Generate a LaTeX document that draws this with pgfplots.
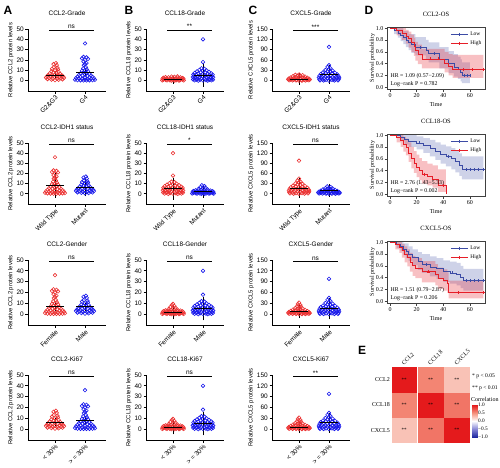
\documentclass[border=0pt]{standalone}
\usepackage{pgfplots}
\pgfplotsset{compat=1.18}
\usepackage{pgfplotstable}
\usepackage{fontspec}
\setmainfont{Liberation Sans}
\newfontfamily\tnr{Liberation Serif}
\definecolor{pr}{RGB}{235,50,50}
\definecolor{pb}{RGB}{25,25,235}
\definecolor{kmb}{RGB}{60,75,165}
\definecolor{kmr}{RGB}{230,30,40}

% CCL2 high-spread group
\pgfplotstableread{
dx y
0 36
-0.05 23
0.05 22.5
-0.1 21.5
0.1 21
0 20
-0.05 18.5
0.05 17
0 16
-0.04 15
0.03 13
-0.06 12
0.06 11
0 10
-0.1 9.5
0.1 9
-0.05 8
0.05 7.5
-0.15 7
0.15 6.5
0 6
-0.2 5.5
0.2 5
-0.08 5
0.08 4.5
-0.25 4
0.25 3.8
-0.15 3.5
0.15 3.2
0 3
-0.3 2.5
0.3 2.3
-0.2 2
0.2 1.8
-0.1 1.5
0.1 1.3
0 1
-0.33 1
0.33 0.8
-0.25 0.5
0.25 0.5
-0.15 0.3
0.15 0.3
-0.05 0.2
0.05 0.2
}\tAH
% CCL2 low-spread group
\pgfplotstableread{
dx y
0.03 17
-0.05 16
0.06 15
-0.04 13
0.08 12.5
-0.1 11.5
0.1 11
0 10
-0.12 9
0.12 8.5
-0.05 8
0.05 7.5
-0.18 7
0.18 6.5
0 6
-0.22 5.5
0.22 5.2
-0.1 5
0.1 4.8
-0.27 4.2
0.27 4
-0.15 3.8
0.15 3.5
0 3.2
-0.3 3
0.3 2.8
-0.2 2.5
0.2 2.2
-0.08 2
0.08 1.8
-0.25 1.5
0.25 1.3
-0.12 1
0.12 0.8
0 0.5
}\tAL
% CCL18 high group
\pgfplotstableread{
dx y
0 40
0 18
-0.05 12
0.05 11.5
-0.12 10.5
0.12 10
0 9.5
-0.2 9
0.2 8.5
-0.08 8
0.08 8
-0.28 7.5
0.28 7
-0.16 7
0.16 6.5
0 6.5
-0.32 6
0.32 5.8
-0.22 5.5
0.22 5.2
-0.1 5
0.1 5
-0.3 4.5
0.3 4.3
-0.18 4
0.18 4
0 4
-0.34 3.5
0.34 3.3
-0.25 3
0.25 3
-0.12 3
0.12 2.8
-0.3 2.2
0.3 2
-0.2 2
0.2 1.8
-0.06 1.8
0.06 1.5
-0.33 1.2
0.33 1
-0.22 1
0.22 0.8
-0.1 0.8
0.1 0.5
-0.28 0.3
0.28 0.3
0 0.2
-0.16 0
0.16 0
}\tBH
% CCL18 low group
\pgfplotstableread{
dx y
0 9.5
-0.04 8.5
0.05 7.5
-0.08 6.8
0.08 6
0 5.2
-0.15 4.8
0.15 4.3
-0.05 4
0.05 3.8
-0.25 3.5
0.25 3.3
-0.15 3.2
0.15 3
0 3
-0.32 2.8
0.32 2.6
-0.22 2.5
0.22 2.3
-0.1 2.2
0.1 2
-0.35 1.8
0.35 1.7
-0.28 1.6
0.28 1.5
-0.18 1.4
0.18 1.3
-0.06 1.2
0.06 1.1
-0.32 0.9
0.32 0.8
-0.24 0.7
0.24 0.6
-0.12 0.5
0.12 0.5
0 0.4
-0.36 0.3
0.36 0.2
-0.2 0.2
0.2 0.1
-0.06 0
0.06 0
}\tBL
% CXCL5 high group
\pgfplotstableread{
dx y
0 98
0 45
-0.05 40
0.05 36
0 33
-0.12 31
0.12 29
-0.05 27
0.05 26
-0.2 24
0.2 23
-0.1 22
0.1 21
0 20
-0.28 19
0.28 18
-0.18 17
0.18 16
-0.06 15
0.06 15
-0.32 14
0.32 13
-0.24 12
0.24 12
-0.12 11
0.12 10
0 10
-0.34 9
0.34 8
-0.26 8
0.26 7
-0.16 7
0.16 6
-0.05 6
0.05 5
-0.32 4
0.32 4
-0.22 3
0.22 3
-0.1 2
0.1 2
-0.3 1
0.3 1
-0.18 0.5
0.18 0.5
0 0
}\tCH
% CXCL5 low group
\pgfplotstableread{
dx y
0 32
-0.04 28
0.05 25
-0.06 22
0.06 20
0 18
-0.12 17
0.12 16
-0.04 15
0.04 14
-0.2 13
0.2 12
-0.1 11
0.1 10
0 10
-0.28 9
0.28 8.5
-0.18 8
0.18 7.5
-0.06 7
0.06 6.5
-0.34 6
0.34 5.5
-0.25 5
0.25 5
-0.14 4.5
0.14 4
-0.02 4
-0.36 3.5
0.36 3
-0.28 3
0.28 2.5
-0.18 2.5
0.18 2
-0.08 2
0.08 1.5
-0.33 1
0.33 1
-0.22 0.8
0.22 0.5
-0.1 0.5
0.1 0.3
0 0
}\tCL

\tikzset{
 sigt/.style={above, font=\fontsize{6.5}{7}\selectfont, inner sep=1.5pt},
 hrt/.style={anchor=west, font=\tnr\fontsize{5.8}{6}\selectfont, inner sep=0.5pt},
}
\pgfplotsset{
 colormap={corr}{rgb255(0cm)=(30,40,160); rgb255(1cm)=(135,135,215); rgb255(2cm)=(255,255,255); rgb255(3cm)=(245,145,125); rgb255(4cm)=(228,26,28)},
 every axis/.append style={/pgf/number format/assume math mode=true},
 scat/.style={scale only axis, width=78pt, axis lines*=left, xmin=0.1, xmax=2.7, xtick={1,2},
   tick align=outside, major tick length=2.5pt, clip=false,
   axis line style={line width=0.8pt}, tick style={line width=0.8pt, black},
   xticklabel style={rotate=45, anchor=north east, inner sep=1pt, font=\fontsize{6.5}{7}\selectfont},
   yticklabel style={font=\fontsize{6.5}{7}\selectfont, inner sep=1.5pt},
   ylabel style={font=\fontsize{5.9}{6}\selectfont, yshift=-2pt},
   title style={font=\fontsize{6.5}{7}\selectfont, yshift=3.5pt}},
 s50/.style={ymin=-10, ymax=50, ytick={0,10,20,30,40,50}},
 s150/.style={ymin=-30, ymax=150, ytick={0,30,60,90,120,150}},
 rp/.style={only marks, mark=o, mark size=1.8pt, pr, mark options={line width=0.6pt}},
 bp/.style={only marks, mark=o, mark size=1.8pt, pb, mark options={line width=0.6pt}},
 mn/.style={only marks, black, mark=-, mark size=9pt, mark options={line width=0.8pt},
   error bars/.cd, y dir=both, y explicit, error mark options={black, mark size=4pt, line width=0.8pt},
   error bar style={black, line width=0.8pt}},
 sig/.style={black, line width=0.8pt, mark=none},
 km/.style={scale only axis, width=98pt, height=62pt, xmin=-2.25, xmax=71.3, ymin=-0.03, ymax=1.02,
   xtick={0,20,40,60}, ytick={0,0.2,0.4,0.6,0.8,1},
   yticklabels={0.0,0.2,0.4,0.6,0.8,1.0},
   tick pos=left, tick align=outside, major tick length=2.5pt,
   axis line style={line width=0.6pt, black!75}, tick style={black!75, line width=0.5pt},
   ticklabel style={font=\tnr\fontsize{6}{7}\selectfont, inner sep=1pt},
   xticklabel style={inner sep=2pt},
   xlabel=Time, ylabel=Survival probability,
   label style={font=\tnr\fontsize{6}{7}\selectfont},
   xlabel style={yshift=1pt}, ylabel style={yshift=-4pt},
   title style={font=\tnr\fontsize{6.5}{7}\selectfont, yshift=1pt},
   legend style={draw=none, fill=none, at={(0.99,0.97)}, anchor=north east,
     font=\tnr\fontsize{5.5}{6}\selectfont, inner sep=0.5pt},
   legend cell align=left,
   legend image post style={mark=+, mark size=1.6pt}},
 bandb/.style={const plot, draw=none, fill=kmb, fill opacity=0.25, forget plot},
 bandr/.style={const plot, draw=none, fill=kmr, fill opacity=0.28, forget plot},
 cb/.style={kmb, const plot, line width=0.7pt, mark=none},
 cr/.style={kmr, const plot, line width=0.7pt, mark=none},
 censb/.style={only marks, mark=+, mark size=1.5pt, kmb, forget plot},
 censr/.style={only marks, mark=+, mark size=1.5pt, kmr, forget plot},
}

\begin{document}
\begin{tikzpicture}
\path[use as bounding box] (0pt,0pt) rectangle (500pt,-467pt);

% ============ Column A: CCL2 ============
\begin{axis}[scat, s50, at={(28pt,-91pt)}, anchor=south west, height=62pt, title={CCL2-Grade},
  ylabel={Relative CCL2 protein levels}, xticklabels={G2\&G3,G4}]
\addplot[rp] table[x expr=1+\thisrow{dx}, y=y]{\tAL};
\addplot[bp] table[x expr=2+\thisrow{dx}, y=y]{\tAH};
\addplot[mn] coordinates {(1,5.5) +- (0,0) (2,8) +- (0,0)};
\addplot[sig] coordinates {(0.8,48.5)(2.3,48.5)};
\node[sigt] at (axis cs:1.55,48.5) {ns};
\end{axis}
\begin{axis}[scat, s50, at={(28pt,-204pt)}, anchor=south west, height=61pt, title={CCL2-IDH1 status},
  ylabel={Relative CCL2 protein levels}, xticklabels={Wild Type,Mutant}]
\addplot[rp] table[x expr=1+\thisrow{dx}, y=y]{\tAH};
\addplot[bp] table[x expr=2+\thisrow{dx}, y=y]{\tAL};
\addplot[mn] coordinates {(1,8.5) +- (0,8.5) (2,6) +- (0,4.5)};
\addplot[sig] coordinates {(0.8,48.5)(2.3,48.5)};
\node[sigt] at (axis cs:1.55,48.5) {ns};
\end{axis}
\begin{axis}[scat, s50, at={(28pt,-325pt)}, anchor=south west, height=65pt, title={CCL2-Gender},
  ylabel={Relative CCL2 protein levels}, xticklabels={Female,Male}]
\addplot[rp] table[x expr=1+\thisrow{dx}, y=y]{\tAH};
\addplot[bp] table[x expr=2+\thisrow{dx}, y=y]{\tAL};
\addplot[mn] coordinates {(1,7) +- (0,0) (2,7) +- (0,0)};
\addplot[sig] coordinates {(0.8,48.5)(2.3,48.5)};
\node[sigt] at (axis cs:1.55,48.5) {ns};
\end{axis}
\begin{axis}[scat, s50, at={(28pt,-440pt)}, anchor=south west, height=65pt, title={CCL2-Ki67},
  ylabel={Relative CCL2 protein levels}, xticklabels={< 30\%,> = 30\%}]
\addplot[rp] table[x expr=1+\thisrow{dx}, y=y]{\tAL};
\addplot[bp] table[x expr=2+\thisrow{dx}, y=y]{\tAH};
\addplot[mn] coordinates {(1,6.5) +- (0,0) (2,8.5) +- (0,0)};
\addplot[sig] coordinates {(0.8,48.5)(2.3,48.5)};
\node[sigt] at (axis cs:1.55,48.5) {ns};
\end{axis}

% ============ Column B: CCL18 ============
\begin{axis}[scat, s50, at={(146pt,-91pt)}, anchor=south west, height=62pt, title={CCL18-Grade},
  ylabel={Relative CCL18 protein levels}, xticklabels={G2\&G3,G4}]
\addplot[rp, restrict y to domain=-5:4.5] table[x expr=1+\thisrow{dx}, y=y]{\tBL};
\addplot[bp] table[x expr=2+\thisrow{dx}, y=y]{\tBH};
\addplot[mn] coordinates {(1,1) +- (0,0) (2,5) +- (0,7)};
\addplot[sig] coordinates {(0.8,48.5)(2.3,48.5)};
\node[sigt] at (axis cs:1.55,48.5) {**};
\end{axis}
\begin{axis}[scat, s50, at={(146pt,-204pt)}, anchor=south west, height=61pt, title={CCL18-IDH1 status},
  ylabel={Relative CCL18 protein levels}, xticklabels={Wild Type,Mutant}]
\addplot[rp] table[x expr=1+\thisrow{dx}, y=y]{\tBH};
\addplot[bp, restrict y to domain=-5:8.5] table[x expr=2+\thisrow{dx}, y=y]{\tBL};
\addplot[mn] coordinates {(1,5) +- (0,7) (2,2) +- (0,2)};
\addplot[sig] coordinates {(0.8,48.5)(2.3,48.5)};
\node[sigt] at (axis cs:1.55,48.5) {*};
\end{axis}
\begin{axis}[scat, s50, at={(146pt,-325pt)}, anchor=south west, height=65pt, title={CCL18-Gender},
  ylabel={Relative CCL18 protein levels}, xticklabels={Female,Male}]
\addplot[rp] table[x expr=1+\thisrow{dx}, y=y]{\tBL};
\addplot[bp] table[x expr=2+\thisrow{dx}, y=y]{\tBH};
\addplot[mn] coordinates {(1,2) +- (0,3) (2,5) +- (0,7)};
\addplot[sig] coordinates {(0.8,48.5)(2.3,48.5)};
\node[sigt] at (axis cs:1.55,48.5) {ns};
\end{axis}
\begin{axis}[scat, s50, at={(146pt,-440pt)}, anchor=south west, height=65pt, title={CCL18-Ki67},
  ylabel={Relative CCL18 protein levels}, xticklabels={< 30\%,> = 30\%}]
\addplot[rp] table[x expr=1+\thisrow{dx}, y=y]{\tBL};
\addplot[bp] table[x expr=2+\thisrow{dx}, y=y]{\tBH};
\addplot[mn] coordinates {(1,2) +- (0,3) (2,5) +- (0,7)};
\addplot[sig] coordinates {(0.8,48.5)(2.3,48.5)};
\node[sigt] at (axis cs:1.55,48.5) {ns};
\end{axis}

% ============ Column C: CXCL5 ============
\begin{axis}[scat, s150, at={(272pt,-91pt)}, anchor=south west, height=62pt, title={CXCL5-Grade},
  ylabel={Relative CXCL5 protein levels}, xticklabels={G2\&G3,G4}]
\addplot[rp, restrict y to domain=-5:19] table[x expr=1+\thisrow{dx}, y=y]{\tCL};
\addplot[bp] table[x expr=2+\thisrow{dx}, y=y]{\tCH};
\addplot[mn] coordinates {(1,5) +- (0,5) (2,18) +- (0,16)};
\addplot[sig] coordinates {(0.8,145)(2.3,145)};
\node[sigt] at (axis cs:1.55,145) {***};
\end{axis}
\begin{axis}[scat, s150, at={(272pt,-204pt)}, anchor=south west, height=61pt, title={CXCL5-IDH1 status},
  ylabel={Relative CXCL5 protein levels}, xticklabels={Wild Type,Mutant}]
\addplot[rp] table[x expr=1+\thisrow{dx}, y=y]{\tCH};
\addplot[bp, restrict y to domain=-5:23] table[x expr=2+\thisrow{dx}, y=y]{\tCL};
\addplot[mn] coordinates {(1,17) +- (0,17) (2,9) +- (0,7)};
\addplot[sig] coordinates {(0.8,145)(2.3,145)};
\node[sigt] at (axis cs:1.55,145) {ns};
\end{axis}
\begin{axis}[scat, s150, at={(272pt,-325pt)}, anchor=south west, height=65pt, title={CXCL5-Gender},
  ylabel={Relative CXCL5 protein levels}, xticklabels={Female,Male}]
\addplot[rp] table[x expr=1+\thisrow{dx}, y=y]{\tCL};
\addplot[bp] table[x expr=2+\thisrow{dx}, y=y]{\tCH};
\addplot[mn] coordinates {(1,8) +- (0,8) (2,15) +- (0,18)};
\addplot[sig] coordinates {(0.8,145)(2.3,145)};
\node[sigt] at (axis cs:1.55,145) {ns};
\end{axis}
\begin{axis}[scat, s150, at={(272pt,-440pt)}, anchor=south west, height=65pt, title={CXCL5-Ki67},
  ylabel={Relative CXCL5 protein levels}, xticklabels={< 30\%,> = 30\%}]
\addplot[rp] table[x expr=1+\thisrow{dx}, y=y]{\tCL};
\addplot[bp] table[x expr=2+\thisrow{dx}, y=y]{\tCH};
\addplot[mn] coordinates {(1,5) +- (0,5) (2,18) +- (0,17)};
\addplot[sig] coordinates {(0.8,145)(2.3,145)};
\node[sigt] at (axis cs:1.55,145) {**};
\end{axis}

% ============ Column D: KM ============
\begin{axis}[km, at={(387pt,-89pt)}, anchor=south west, title={CCL2-OS}]
\addplot[bandb] coordinates {(0,1)(6,1)(10,0.95)(14,0.9)(19,0.85)(27,0.8)(29,0.76)(37,0.68)(44,0.61)(48,0.56)(51,0.52)(53,0.47)(54,0.42)(60,0.42)
 (60,0.07)(54,0.10)(53,0.14)(51,0.18)(48,0.24)(44,0.32)(37,0.42)(29,0.47)(27,0.54)(19,0.58)(16,0.63)(14,0.68)(12,0.73)(10,0.78)(8,0.84)(6,0.9)(3,1)(0,1)};
\addplot[bandr] coordinates {(0,1)(9,1)(12,0.97)(14,0.94)(16,0.89)(18,0.84)(19,0.77)(21,0.72)(24,0.65)(41,0.6)(44,0.56)(47,0.55)(70,0.55)
 (70,0.16)(47,0.2)(44,0.25)(41,0.32)(24,0.39)(21,0.45)(19,0.53)(18,0.6)(16,0.67)(14,0.74)(12,0.8)(9,0.88)(5,1)(0,1)};
\addplot[cb] coordinates {(0,1)(3,0.96)(6,0.92)(8,0.88)(10,0.84)(12,0.80)(14,0.76)(16,0.72)(19,0.68)(27,0.62)(29,0.57)(37,0.48)(44,0.40)(48,0.34)(51,0.30)(53,0.25)(54,0.20)(60,0.20)};
\addlegendentry{Low}
\addplot[cr] coordinates {(0,1)(5,0.96)(9,0.92)(12,0.87)(14,0.82)(16,0.76)(18,0.70)(19,0.62)(21,0.56)(24,0.48)(41,0.41)(44,0.35)(47,0.30)(70,0.30)};
\addlegendentry{High}
\addplot[censb] coordinates {(23,0.68)(33,0.57)(56,0.2)(58,0.2)(60,0.2)};
\addplot[censr] coordinates {(30,0.48)(36,0.48)(55,0.3)(62,0.3)(70,0.3)};
\node[hrt] at (axis cs:0,0.19) {HR = 1.09 (0.57−2.09)};
\node[hrt] at (axis cs:0,0.05) {Log−rank P = 0.782};
\end{axis}

\begin{axis}[km, at={(387pt,-196pt)}, anchor=south west, title={CCL18-OS}]
\addplot[bandb] coordinates {(0,1)(20,0.98)(25,0.95)(30,0.92)(34,0.88)(38,0.84)(42,0.81)(46,0.78)(49,0.74)(52,0.69)(54,0.64)(70,0.64)
 (70,0.25)(54,0.31)(52,0.37)(49,0.42)(46,0.47)(42,0.52)(38,0.58)(34,0.64)(30,0.7)(25,0.76)(20,0.8)(14,0.84)(11,0.9)(8,1)(0,1)};
\addplot[bandr] coordinates {(0,1)(10,0.97)(12,0.94)(14,0.88)(16,0.8)(18,0.73)(20,0.67)(22,0.61)(24,0.56)(28,0.52)(32,0.49)(36,0.42)(42,0.42)
 (42,0.04)(36,0.11)(32,0.15)(28,0.18)(24,0.24)(22,0.29)(20,0.36)(18,0.44)(16,0.55)(14,0.66)(12,0.72)(10,0.8)(8,0.88)(5,1)(0,1)};
\addplot[cb] coordinates {(0,1)(8,0.97)(11,0.93)(14,0.90)(20,0.87)(25,0.82)(30,0.78)(34,0.73)(38,0.68)(42,0.64)(46,0.60)(49,0.55)(52,0.49)(54,0.42)(70,0.42)};
\addlegendentry{Low}
\addplot[cr] coordinates {(0,1)(5,0.96)(8,0.91)(10,0.85)(12,0.80)(14,0.70)(16,0.60)(18,0.52)(20,0.45)(22,0.40)(24,0.34)(28,0.30)(32,0.26)(36,0.15)(42,0.0)};
\addlegendentry{High}
\addplot[censb] coordinates {(22,0.87)(44,0.64)(57,0.42)(60,0.42)(63,0.42)(66,0.42)(70,0.42)};
\addplot[censr] coordinates {(26,0.34)(40,0.15)};
\node[hrt] at (axis cs:0,0.19) {HR = 2.76 (1.43−5.33)};
\node[hrt] at (axis cs:0,0.05) {Log−rank P = 0.002};
\end{axis}

\begin{axis}[km, at={(387pt,-303pt)}, anchor=south west, title={CXCL5-OS}]
\addplot[bandb] coordinates {(0,1)(10,0.98)(14,0.93)(17,0.88)(21,0.83)(24,0.8)(30,0.76)(35,0.73)(40,0.69)(45,0.67)(50,0.65)(53,0.6)(55,0.55)(70,0.55)
 (70,0.18)(55,0.22)(53,0.27)(50,0.3)(45,0.33)(40,0.38)(35,0.42)(30,0.48)(24,0.53)(21,0.61)(17,0.68)(14,0.73)(12,0.78)(10,0.85)(8,0.9)(5,1)(0,1)};
\addplot[bandr] coordinates {(0,1)(9,0.97)(11,0.93)(13,0.88)(15,0.82)(17,0.77)(19,0.73)(24,0.68)(34,0.63)(36,0.57)(40,0.54)(43,0.49)(44,0.35)(70,0.35)
 (70,0.05)(44,0.14)(43,0.18)(40,0.21)(36,0.27)(34,0.32)(24,0.39)(19,0.43)(17,0.5)(15,0.59)(13,0.66)(11,0.74)(9,0.82)(7,0.88)(4,1)(0,1)};
\addplot[cb] coordinates {(0,1)(5,0.97)(8,0.93)(10,0.88)(12,0.84)(14,0.80)(17,0.74)(21,0.67)(24,0.63)(30,0.58)(35,0.55)(40,0.50)(45,0.48)(50,0.45)(53,0.40)(55,0.35)(70,0.35)};
\addlegendentry{Low}
\addplot[cr] coordinates {(0,1)(4,0.96)(7,0.92)(9,0.86)(11,0.80)(13,0.74)(15,0.66)(17,0.60)(19,0.56)(24,0.50)(34,0.45)(36,0.38)(40,0.35)(43,0.30)(44,0.15)(70,0.15)};
\addlegendentry{High}
\addplot[censb] coordinates {(27,0.63)(47,0.48)(57,0.35)(60,0.35)(63,0.35)(66,0.35)(70,0.35)};
\addplot[censr] coordinates {(29,0.5)(51,0.15)(70,0.15)};
\node[hrt] at (axis cs:0,0.19) {HR = 1.51 (0.79−2.87)};
\node[hrt] at (axis cs:0,0.05) {Log−rank P = 0.206};
\end{axis}

% ============ Panel E: correlation heatmap ============
\begin{axis}[at={(391pt,-443pt)}, anchor=south west, scale only axis, width=79pt, height=76pt,
  xmin=-0.5, xmax=2.5, ymin=-0.5, ymax=2.5, xtick={0,1,2}, ytick={0,1,2},
  xticklabels={CCL2,CCL18,CXCL5}, yticklabels={CXCL5,CCL18,CCL2},
  xticklabel pos=right,
  xticklabel style={rotate=45, anchor=south west, font=\tnr\fontsize{6}{7}\selectfont, inner sep=1pt},
  yticklabel style={font=\tnr\fontsize{6}{7}\selectfont, inner sep=1pt},
  axis line style={draw=none}, tick style={draw=none}, clip=false,
  colormap name=corr, point meta min=-1, point meta max=1]
\addplot[scatter, only marks, mark=square*, mark size=12.2pt, scatter src=explicit,
  scatter/use mapped color={draw=mapped color, fill=mapped color}]
  table[x=x, y=y, meta=c] {
x y c
0 2 1
1 2 0.55
2 2 0.28
0 1 0.55
1 1 1
2 1 0.62
0 0 0.28
1 0 0.62
2 0 1
};
\addplot[only marks, mark=none, nodes near coords={**}, nodes near coords align={center},
  every node near coord/.append style={black, font=\tnr\fontsize{5}{6}\selectfont}]
  coordinates {(0,2)(1,2)(2,2)(0,1)(1,1)(2,1)(0,0)(1,0)(2,0)};
\end{axis}
% colour key
\begin{axis}[at={(472pt,-437pt)}, anchor=south west, scale only axis, width=5pt, height=32pt,
  xmin=0, xmax=1, ymin=-1, ymax=1, xtick=\empty, ytick={-1,-0.5,0,0.5,1},
  yticklabels={−1.0,−0.5,0.0,0.5,1.0}, yticklabel pos=right,
  yticklabel style={font=\tnr\fontsize{5.3}{6}\selectfont, inner sep=1pt},
  axis line style={draw=none}, tick style={draw=none},
  colormap name=corr, point meta min=-1, point meta max=1]
\addplot[surf, shader=interp, point meta=y] coordinates {
(0,-1) (1,-1)

(0,-0.5) (1,-0.5)

(0,0) (1,0)

(0,0.5) (1,0.5)

(0,1) (1,1)
};
\end{axis}
\node[anchor=south west, font=\tnr\fontsize{6}{7}\selectfont, inner sep=0pt] at (471pt,-401.5pt) {Correlation};
\node[anchor=west, font=\tnr\fontsize{5.6}{6}\selectfont, inner sep=0pt] at (472pt,-376pt) {* p < 0.05};
\node[anchor=west, font=\tnr\fontsize{5.6}{6}\selectfont, inner sep=0pt] at (472pt,-388pt) {** p < 0.01};

% panel letters
\node[font=\bfseries\fontsize{12}{12}\selectfont] at (8pt,-10pt) {A};
\node[font=\bfseries\fontsize{12}{12}\selectfont] at (129pt,-10pt) {B};
\node[font=\bfseries\fontsize{12}{12}\selectfont] at (253pt,-10pt) {C};
\node[font=\bfseries\fontsize{12}{12}\selectfont] at (369pt,-10pt) {D};
\node[font=\bfseries\fontsize{12}{12}\selectfont] at (362pt,-350pt) {E};
\end{tikzpicture}
\end{document}
